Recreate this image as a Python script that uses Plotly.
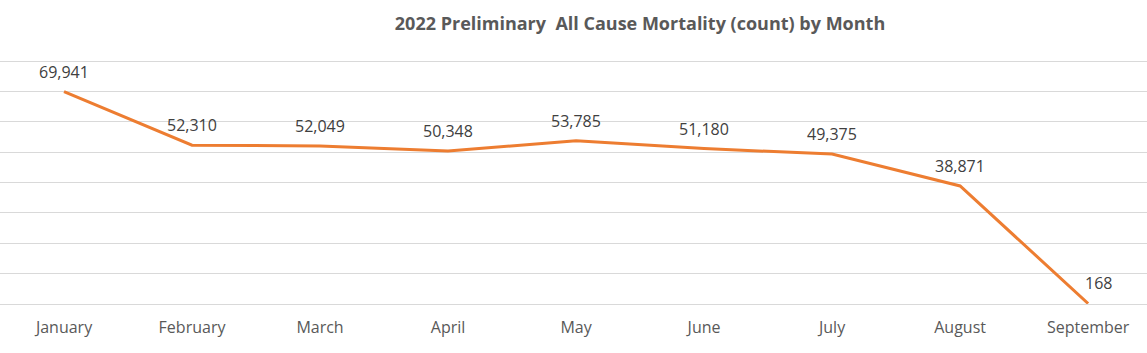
import plotly.graph_objects as go

months = ["January", "February", "March", "April", "May", "June", "July", "August", "September"]
deaths = [69941, 52310, 52049, 50348, 53785, 51180, 49375, 38871, 168]
labels = [f"{v:,}" for v in deaths]

fig = go.Figure()
fig.add_trace(go.Scatter(
    x=months, y=deaths, mode="lines",
    line=dict(color="#ED7D31", width=3),
    hoverinfo="x+y",
))

for i, (m, v, t) in enumerate(zip(months, deaths, labels)):
    fig.add_annotation(
        x=m, y=v, text=t, showarrow=False, yshift=20,
        xshift=10 if i == len(months) - 1 else 0,
        font=dict(family="Open Sans, sans-serif", size=16, color="#404040"),
    )

fig.update_layout(
    width=1147, height=353,
    margin=dict(l=0, r=0, t=58, b=49),
    paper_bgcolor="white", plot_bgcolor="white",
    showlegend=False,
    title=dict(
        text="<b>2022 Preliminary  All Cause Mortality (count) by Month</b>",
        x=0.558, xanchor="center", y=0.932, yanchor="middle",
        font=dict(family="Open Sans, sans-serif", size=18, color="#595959"),
    ),
)
fig.update_xaxes(
    range=[-0.5, 8.46], showgrid=False, showline=False, zeroline=False,
    ticks="", ticklabelstandoff=12,
    tickfont=dict(family="Open Sans, sans-serif", size=16, color="#595959"),
)
fig.update_yaxes(
    range=[0, 81000], tickvals=[10000 * k for k in range(9)], showgrid=True,
    gridcolor="#D9D9D9", gridwidth=1,
    showticklabels=False, zeroline=True, zerolinecolor="#D9D9D9", zerolinewidth=1,
    showline=False,
)

fig.write_html("out.html")
